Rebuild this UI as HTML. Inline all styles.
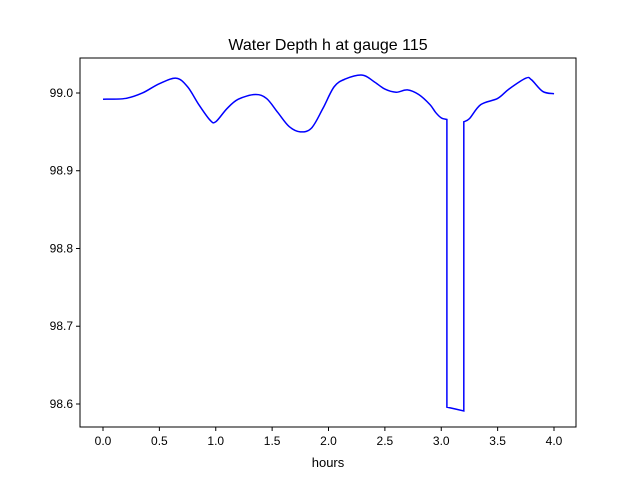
<!DOCTYPE html>
<html><head><meta charset="utf-8"><style>
body{margin:0;background:#fff}
svg{display:block;font-family:"Liberation Sans",sans-serif}
</style></head><body>
<svg width="640" height="480">
<rect x="0" y="0" width="640" height="480" fill="#fff"/>
<text x="328" y="50" text-anchor="middle" font-size="16">Water Depth h at gauge 115</text>
<g id="plot"></g>
<text x="328" y="467" text-anchor="middle" font-size="13">hours</text>
</svg>
<script>
const xs=[0,0.2,0.35,0.5,0.65,0.75,0.85,0.95,1.0,1.1,1.2,1.35,1.45,1.55,1.65,1.75,1.85,1.95,2.05,2.15,2.3,2.4,2.5,2.6,2.7,2.8,2.9,2.95,3.0,3.05,3.05,3.2,3.2,3.25,3.35,3.5,3.6,3.75,3.8,3.9,4.0];
const ys=[98.992,98.993,99.0,99.012,99.019,99.008,98.985,98.965,98.963,98.98,98.992,98.998,98.993,98.975,98.957,98.950,98.955,98.98,99.008,99.018,99.023,99.015,99.005,99.001,99.004,98.998,98.985,98.975,98.968,98.966,98.596,98.591,98.963,98.967,98.985,98.993,99.005,99.019,99.017,99.002,98.999];
const xTicks=[0,0.5,1,1.5,2,2.5,3,3.5,4];
const xTickLabels=["0.0","0.5","1.0","1.5","2.0","2.5","3.0","3.5","4.0"];
const yTicks=[98.6,98.7,98.8,98.9,99.0];
const yTickLabels=["98.6","98.7","98.8","98.9","99.0"];
const L=80,R=576,T=58,B=427,x0=-0.204,x1=4.195,y0=98.5704,y1=99.045;
const sx=v=>L+(v-x0)/(x1-x0)*(R-L);
const sy=v=>B-(v-y0)/(y1-y0)*(B-T);
const NS="http://www.w3.org/2000/svg",g=document.getElementById('plot');
function mk(t,a){const e=document.createElementNS(NS,t);for(const k in a)e.setAttribute(k,a[k]);g.appendChild(e);return e;}
const P=xs.map((x,i)=>[sx(x),sy(ys[i])]);
let d='M'+P[0][0]+','+P[0][1];
for(let i=0;i<P.length-1;i++){
  const a=P[i],b=P[i+1];
  if(Math.abs(a[0]-b[0])<0.5||(i>0&&Math.abs(P[i-1][0]-a[0])<0.5&&false)){d+=' L'+b[0]+','+b[1];continue;}
  let p0=(i>0&&Math.abs(P[i-1][0]-a[0])>=0.5)?P[i-1]:a;
  let p3=(i+2<P.length&&Math.abs(P[i+2][0]-b[0])>=0.5)?P[i+2]:b;
  const c1=[a[0]+(b[0]-p0[0])/6,a[1]+(b[1]-p0[1])/6];
  const c2=[b[0]-(p3[0]-a[0])/6,b[1]-(p3[1]-a[1])/6];
  d+=' C'+c1[0]+','+c1[1]+' '+c2[0]+','+c2[1]+' '+b[0]+','+b[1];
}
const line=mk('path',{d:d,fill:'none',stroke:'#0000ff','stroke-width':1.5});


const fr=mk('rect',{x:L,y:T,width:R-L,height:B-T,fill:'none',stroke:'#000','stroke-width':1});


xTicks.forEach((v,i)=>{const x=sx(v);
const t=mk('line',{x1:x,x2:x,y1:B,y2:B+4,stroke:'#000'});


const l=mk('text',{x:x,y:B+18,'text-anchor':'middle','font-size':12});l.textContent=xTickLabels[i];

});
yTicks.forEach((v,i)=>{const y=sy(v);
const t=mk('line',{x1:L-4,x2:L,y1:y,y2:y,stroke:'#000'});


const l=mk('text',{x:L-7,y:y+4,'text-anchor':'end','font-size':12});l.textContent=yTickLabels[i];

});
</script>
</body></html>
